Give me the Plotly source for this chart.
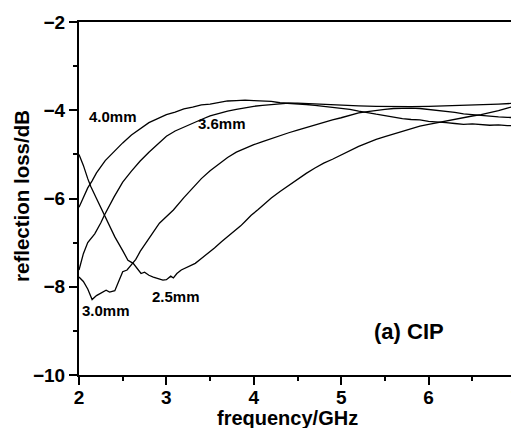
import plotly.graph_objects as go

# 4.0mm
f_a = [2.0, 2.05, 2.1, 2.15, 2.2, 2.3, 2.4, 2.5, 2.6, 2.7, 2.8, 2.9, 3.0, 3.1, 3.2, 3.3, 3.4, 3.5,
       3.6, 3.7, 3.8, 3.9, 4.0, 4.1, 4.2, 4.3, 4.4, 4.5, 4.6, 4.7, 4.8, 4.9, 5.0, 5.1, 5.2, 5.3,
       5.4, 5.5, 5.6, 5.7, 5.8, 5.9, 6.0, 6.1, 6.2, 6.3, 6.4, 6.5, 6.6, 6.7, 6.8, 6.9, 7.0]
rl_a = [-6.2, -5.98, -5.76, -5.6, -5.42, -5.14, -4.93, -4.74, -4.56, -4.41, -4.28, -4.19, -4.10,
        -4.04, -3.97, -3.93, -3.88, -3.86, -3.82, -3.79, -3.78, -3.77, -3.78, -3.79, -3.80, -3.83,
        -3.84, -3.86, -3.87, -3.89, -3.91, -3.93, -3.95, -3.98, -4.02, -4.06, -4.09, -4.12, -4.16,
        -4.19, -4.21, -4.22, -4.25, -4.26, -4.28, -4.30, -4.32, -4.31, -4.33, -4.34, -4.33, -4.35, -4.35]

# 3.6mm
f_b = [2.0, 2.05, 2.1, 2.18, 2.25, 2.29, 2.4, 2.5, 2.6, 2.7, 2.8, 2.9, 3.0, 3.1, 3.2, 3.3, 3.4,
       3.5, 3.6, 3.7, 3.8, 3.9, 4.0, 4.1, 4.2, 4.3, 4.4, 4.5, 4.6, 4.7, 4.8, 4.9, 5.0, 5.2, 5.4,
       5.6, 5.8, 6.0, 6.2, 6.4, 6.6, 6.8, 7.0]
rl_b = [-7.62, -7.25, -7.0, -6.8, -6.55, -6.38, -5.97, -5.63, -5.38, -5.15, -4.95, -4.76, -4.59,
        -4.47, -4.38, -4.29, -4.21, -4.13, -4.07, -4.02, -3.98, -3.94, -3.91, -3.89, -3.87, -3.85,
        -3.84, -3.84, -3.85, -3.86, -3.87, -3.88, -3.89, -3.90, -3.91, -3.92, -3.92, -3.91, -3.90,
        -3.89, -3.88, -3.86, -3.84]

# 2.5mm
f_c = [2.0, 2.05, 2.1, 2.135, 2.2, 2.25, 2.29, 2.35, 2.41, 2.5, 2.56, 2.62, 2.68, 2.71, 2.75, 2.8,
       2.85, 2.9, 2.96, 3.0, 3.05, 3.08, 3.12, 3.17, 3.25, 3.33, 3.4, 3.48, 3.55, 3.63, 3.7, 3.78,
       3.85, 3.9, 3.97, 4.05, 4.1, 4.2, 4.3, 4.4, 4.5, 4.6, 4.7, 4.8, 4.9, 5.0, 5.1, 5.2, 5.3, 5.4,
       5.5, 5.6, 5.7, 5.8, 5.9, 6.0, 6.1, 6.2, 6.3, 6.4, 6.5, 6.6, 6.7, 6.8, 6.9, 7.0]
rl_c = [-5.0, -5.25, -5.55, -5.73, -6.0, -6.2, -6.38, -6.62, -6.87, -7.18, -7.40, -7.47, -7.62,
        -7.70, -7.67, -7.74, -7.78, -7.82, -7.85, -7.84, -7.76, -7.80, -7.70, -7.62, -7.55, -7.47,
        -7.36, -7.24, -7.12, -6.98, -6.87, -6.75, -6.62, -6.52, -6.38, -6.25, -6.16, -5.99, -5.84,
        -5.70, -5.57, -5.43, -5.31, -5.20, -5.11, -5.01, -4.92, -4.82, -4.74, -4.66, -4.60, -4.54,
        -4.49, -4.42, -4.36, -4.32, -4.28, -4.24, -4.20, -4.16, -4.13, -4.10, -4.06, -4.01, -3.95, -3.90]

# 3.0mm
f_d = [2.0, 2.05, 2.1, 2.15, 2.2, 2.25, 2.31, 2.35, 2.41, 2.45, 2.5, 2.55, 2.6, 2.65, 2.7, 2.77,
       2.85, 2.92, 3.0, 3.08, 3.2, 3.3, 3.4, 3.5, 3.6, 3.7, 3.8, 3.9, 4.0, 4.1, 4.2, 4.3, 4.4, 4.5,
       4.6, 4.7, 4.8, 4.9, 5.0, 5.1, 5.2, 5.3, 5.4, 5.5, 5.6, 5.7, 5.8, 5.9, 6.0, 6.1, 6.2, 6.3,
       6.4, 6.5, 6.6, 6.7, 6.8, 6.9, 7.0]
rl_d = [-7.78, -7.88, -8.05, -8.29, -8.2, -8.15, -8.08, -8.12, -8.09, -7.9, -7.66, -7.62, -7.50,
        -7.38, -7.2, -6.98, -6.76, -6.56, -6.42, -6.26, -5.98, -5.76, -5.55, -5.37, -5.22, -5.07,
        -4.95, -4.86, -4.78, -4.71, -4.64, -4.57, -4.51, -4.45, -4.39, -4.33, -4.27, -4.22, -4.17,
        -4.11, -4.06, -4.03, -4.00, -3.98, -3.96, -3.95, -3.95, -3.96, -3.98, -4.01, -4.03, -4.05,
        -4.08, -4.10, -4.12, -4.14, -4.15, -4.16, -4.17]

labels = ["4.0mm", "3.6mm", "2.5mm", "3.0mm"]
label_f = [2.39, 3.64, 3.11, 2.31]
label_rl = [-4.14, -4.29, -8.23, -8.53]

x_ticks = [2, 3, 4, 5, 6, 7]
y_ticks = [-2, -4, -6, -8, -10]

FONT = "Liberation Sans, Arial, sans-serif"
# the page body has an 8px margin, so the figure is sized to end at the window edge
OFF = 8
W, H = 519 - OFF, 428 - OFF
ML, MR, MT, MB = 79 - OFF, 3, 22 - OFF, 53

fig = go.Figure()
for fx, fy in [(f_a, rl_a), (f_b, rl_b), (f_c, rl_c), (f_d, rl_d)]:
    fig.add_trace(go.Scatter(x=fx, y=fy, mode="lines",
                             line=dict(color="black", width=1.3), showlegend=False))

for t, fx, fy in zip(labels, label_f, label_rl):
    fig.add_annotation(x=fx, y=fy, text="<b>" + t + "</b>", showarrow=False,
                       xanchor="center", yanchor="middle",
                       font=dict(family=FONT, size=15, color="black"))

fig.add_annotation(x=5.77, y=-9.02, text="<b>(a) CIP</b>", showarrow=False,
                   xanchor="center", yanchor="middle",
                   font=dict(family=FONT, size=22, color="black"))

# axis titles placed in paper coordinates (page pixel positions minus body offset)
pw = W - ML - MR
ph = H - MT - MB
fig.add_annotation(xref="paper", yref="paper",
                   x=(287.5 - OFF - ML) / pw, y=(H - MB - (418 - OFF)) / ph,
                   xanchor="center", yanchor="middle",
                   text="<b>frequency/GHz</b>", showarrow=False,
                   font=dict(family=FONT, size=20, color="black"))
fig.add_annotation(xref="paper", yref="paper",
                   x=(21 - OFF - ML) / pw, y=(H - MB - (196 - OFF)) / ph, textangle=-90,
                   xanchor="center", yanchor="middle",
                   text="<b>reflection loss/dB</b>", showarrow=False,
                   font=dict(family=FONT, size=20.5, color="black"))

axis_common = dict(showline=True, linecolor="black", linewidth=2, mirror=True,
                   showgrid=False, zeroline=False, ticks="outside", ticklen=8,
                   tickwidth=2, tickcolor="black", automargin=False,
                   ticklabeloverflow="allow",
                   tickfont=dict(family=FONT, size=19, color="black"))

fig.update_xaxes(range=[2, 7], tickvals=x_ticks,
                 ticktext=["<b>%d</b>" % v for v in x_ticks],
                 ticklabelstandoff=-4,
                 minor=dict(dtick=0.5, tick0=2, ticklen=4, tickwidth=2, tickcolor="black", ticks="outside"),
                 **axis_common)
fig.update_yaxes(range=[-10, -2], tickvals=y_ticks,
                 ticktext=["<b>\u2212%d</b>" % (-v) for v in y_ticks],
                 minor=dict(dtick=1, tick0=-10, ticklen=4, tickwidth=2, tickcolor="black", ticks="outside"),
                 **axis_common)

fig.update_layout(width=W, height=H, margin=dict(l=ML, r=MR, t=MT, b=MB, autoexpand=False),
                  paper_bgcolor="white", plot_bgcolor="white")

fig.write_html("out.html")
